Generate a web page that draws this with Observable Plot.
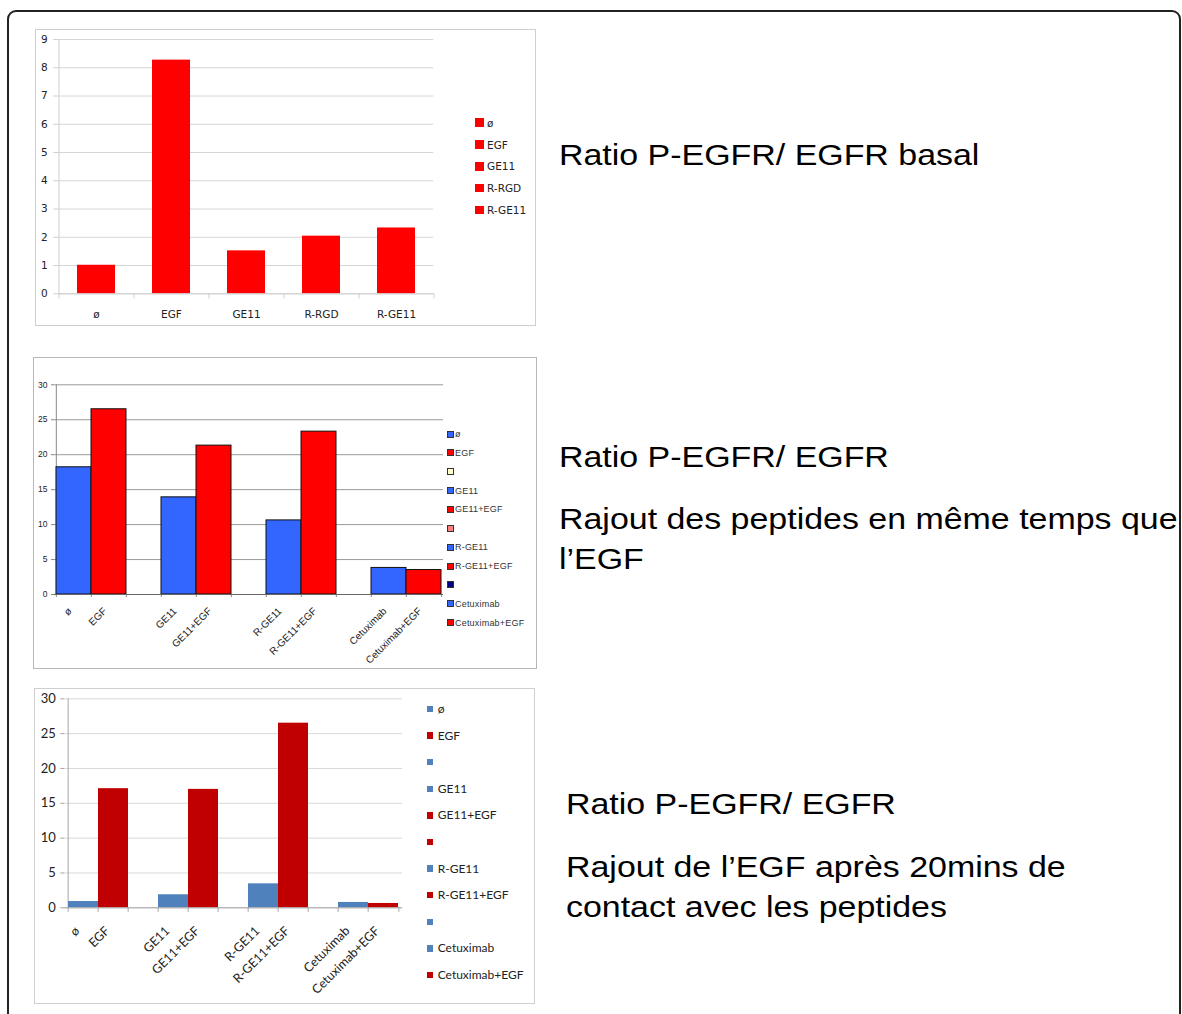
<!DOCTYPE html>
<html>
<head>
<meta charset="utf-8">
<script src="https://cdn.jsdelivr.net/npm/d3@7"></script>
<script src="https://cdn.jsdelivr.net/npm/@observablehq/plot@0.6"></script>
<style>
  body { margin: 0; background: #fff; }
  #page { position: relative; width: 1182px; height: 1014px; overflow: hidden; background: #fff; }
  .frame { position: absolute; left: 7px; top: 10px; width: 1174px; height: 1100px; box-sizing: border-box;
           border: 2px solid #222; border-radius: 9px; }
  .box { position: absolute; box-sizing: border-box; background: #fff; }
  .box svg { position: absolute; left: 0; top: 0; overflow: visible; }
  .caption { position: absolute; font-family: "Liberation Sans", Arial, sans-serif; font-size: 29.5px;
             line-height: 29.5px; color: #000; white-space: nowrap; transform-origin: 0 0; transform: scaleX(1.15); }
</style>
</head>
<body>
<div id="page"><div class="frame"></div></div>
<script>
// ---------------- data ----------------
const basalLabels = ["ø", "EGF", "GE11", "R-RGD", "R-GE11"];
const basalValues = [1.01, 8.27, 1.52, 2.04, 2.33];
const basalColors = ["#ff0000", "#ff0000", "#ff0000", "#ff0000", "#ff0000"];
const basalTicks = [0, 1, 2, 3, 4, 5, 6, 7, 8, 9];

const slotLabels = ["ø", "EGF", "", "GE11", "GE11+EGF", "", "R-GE11", "R-GE11+EGF", "", "Cetuximab", "Cetuximab+EGF"];

const simultaneousValues = [18.2, 26.5, null, 13.9, 21.3, null, 10.6, 23.3, null, 3.8, 3.5];
const simultaneousColors = ["#3366ff", "#ff0000", "#ffffcc", "#3366ff", "#ff0000", "#ff8080", "#3366ff", "#ff0000", "#000080", "#3366ff", "#ff0000"];

const delayedValues = [0.9, 17.1, null, 1.87, 17.0, null, 3.44, 26.5, null, 0.77, 0.62];
const delayedColors = ["#4f81bd", "#c00000", "#4f81bd", "#4f81bd", "#c00000", "#c00000", "#4f81bd", "#c00000", "#4f81bd", "#4f81bd", "#c00000"];

const ratioTicks = [0, 5, 10, 15, 20, 25, 30];

const captions = [
  {text: "Ratio P-EGFR/ EGFR basal", x: 559, baseline: 164.5},
  {text: "Ratio P-EGFR/ EGFR", x: 559, baseline: 467},
  {text: "Rajout des peptides en même temps que", x: 559, baseline: 529},
  {text: "l’EGF", x: 559, baseline: 569},
  {text: "Ratio P-EGFR/ EGFR", x: 566, baseline: 814},
  {text: "Rajout de l’EGF après 20mins de", x: 566, baseline: 876.5},
  {text: "contact avec les peptides", x: 566, baseline: 916.5}
];

// ---------------- helpers ----------------
const page = document.getElementById("page");

function makeBox(left, top, w, h, border) {
  const box = document.createElement("div");
  box.className = "box";
  box.style.cssText = `left:${left}px;top:${top}px;width:${w}px;height:${h}px;border:1px solid ${border};`;
  page.appendChild(box);
  return box;
}

function makeChart(o) {
  const n = o.labels.length;
  const idx = d3.range(n);
  const plotH = o.h - o.mt - o.mb;
  const step = (o.w - o.ml - o.mr) / n;
  const tickData = o.tickLen * o.yMax / plotH;
  const bars = idx.map(i => ({i, v: o.values[i], c: o.colors[i]})).filter(d => d.v != null);
  return Plot.plot({
    width: o.w, height: o.h,
    marginLeft: o.ml, marginRight: o.mr, marginTop: o.mt, marginBottom: o.mb,
    style: {background: "transparent", overflow: "visible", fontFamily: o.yFont, fontSize: o.yFontSize + "px"},
    x: {domain: idx, paddingInner: o.padInner, paddingOuter: o.padOuter, axis: null},
    y: {domain: [0, o.yMax]},
    color: {type: "identity"},
    marks: [
      Plot.ruleY(o.ticks, {stroke: o.gridColor, strokeWidth: 1}),
      Plot.ruleX([0], {x: d => d, dx: -step / 2, stroke: o.axisColor}),
      Plot.ruleX(idx, {x: d => d, dx: -step / 2, y1: 0, y2: -tickData, stroke: o.axisColor}),
      Plot.ruleX([n - 1], {x: d => d, dx: step / 2, y1: 0, y2: -tickData, stroke: o.axisColor}),
      Plot.barY(bars, {x: "i", y: "v", fill: "c", stroke: o.barStroke, strokeWidth: o.barStroke ? 1 : 0}),
      Plot.ruleY([0], {stroke: o.zeroColor}),
      Plot.axisY({ticks: o.ticks, tickSize: o.yTickSize, tickPadding: o.yTickPadding, stroke: o.axisColor,
                  fill: o.yColor, fontSize: o.yFontSize, fontFamily: o.yFont, label: null, tickFormat: d => String(d)}),
      Plot.text(idx, {x: d => d, y: 0, text: i => o.labels[i], dx: o.xdx, dy: o.xdy, rotate: o.xRotate,
                      textAnchor: o.xRotate ? "end" : "middle", fontSize: o.xFontSize, fontFamily: o.xFont, fill: o.xColor})
    ]
  });
}

function makeLegend(box, labels, colors, o) {
  labels.forEach((lab, i) => {
    const cy = o.y0 + i * o.dy;
    const sq = document.createElement("div");
    sq.style.cssText = `position:absolute;left:${o.x}px;top:${cy - o.size / 2}px;width:${o.size}px;height:${o.size}px;` +
      `box-sizing:border-box;background:${colors[i]};` + (o.stroke ? `border:1px solid ${o.stroke};` : "");
    box.appendChild(sq);
    if (lab) {
      const t = document.createElement("div");
      t.textContent = lab;
      t.style.cssText = `position:absolute;left:${o.textX}px;top:${cy}px;transform:translateY(-50%);` +
        `font-family:${o.font};font-size:${o.fontSize}px;line-height:1;color:${o.color};white-space:nowrap;` +
        `letter-spacing:${o.spacing || 0}px;`;
      box.appendChild(t);
    }
  });
}

// ---------------- chart 1 ----------------
{
  const box = makeBox(35, 29, 501, 297, "#cfcfcf");
  box.appendChild(makeChart({
    labels: basalLabels, values: basalValues, colors: basalColors, ticks: basalTicks, yMax: 9,
    w: 499, h: 295, ml: 22.3, mr: 101.7, mt: 9, mb: 31.7, padInner: 0.5, padOuter: 0.25,
    barStroke: null, gridColor: "#d6d6d6", zeroColor: "#cfcfcf", axisColor: "#cfcfcf", tickLen: 5,
    yTickSize: 5, yTickPadding: 6, yFont: "DejaVu Sans", yFontSize: 10.5, yColor: "#222",
    xFont: "DejaVu Sans", xFontSize: 10.5, xColor: "#222", xRotate: 0, xdx: 0, xdy: 21
  }));
  makeLegend(box, basalLabels, basalColors, {x: 439, y0: 92.7, dy: 21.8, size: 8.5, textX: 451,
    font: "DejaVu Sans", fontSize: 10.5, color: "#222"});
}

// ---------------- chart 2 ----------------
{
  const box = makeBox(33, 357, 504, 312, "#b8b8b8");
  box.appendChild(makeChart({
    labels: slotLabels, values: simultaneousValues, colors: simultaneousColors, ticks: ratioTicks, yMax: 30,
    w: 502, h: 310, ml: 20, mr: 93, mt: 26.3, mb: 74, padInner: 0, padOuter: 0,
    barStroke: "#111", gridColor: "#9a9a9a", zeroColor: "#666", axisColor: "#888", tickLen: 3,
    yTickSize: 3, yTickPadding: 4, yFont: "Liberation Sans", yFontSize: 8.5, yColor: "#222",
    xFont: "Liberation Sans", xFontSize: 10, xColor: "#222", xRotate: -45, xdx: -4, xdy: 15
  }));
  makeLegend(box, slotLabels, simultaneousColors, {x: 413, y0: 76, dy: 18.87, size: 7, textX: 421,
    stroke: "#333", font: "Liberation Sans", fontSize: 9, color: "#333", spacing: 0.2});
}

// ---------------- chart 3 ----------------
{
  const box = makeBox(34, 688, 501, 316, "#cfcfcf");
  box.appendChild(makeChart({
    labels: slotLabels, values: delayedValues, colors: delayedColors, ticks: ratioTicks, yMax: 30,
    w: 499, h: 314, ml: 29.3, mr: 132, mt: 9.3, mb: 95.7, padInner: 0, padOuter: 0,
    barStroke: null, gridColor: "#d9d9d9", zeroColor: "#a6a6a6", axisColor: "#a6a6a6", tickLen: 4.5,
    yTickSize: 4, yTickPadding: 5, yFont: "Lato", yFontSize: 13, yColor: "#222",
    xFont: "Lato", xFontSize: 12.5, xColor: "#222", xRotate: -45, xdx: -6, xdy: 21
  }));
  makeLegend(box, slotLabels, delayedColors, {x: 391.7, y0: 20, dy: 26.6, size: 6.5, textX: 402.7,
    font: "Lato", fontSize: 12, color: "#222"});
}

// ---------------- captions ----------------
captions.forEach(c => {
  const d = document.createElement("div");
  d.className = "caption";
  d.textContent = c.text;
  d.style.left = c.x + "px";
  d.style.top = (c.baseline - 25) + "px";
  page.appendChild(d);
});
</script>
</body>
</html>
